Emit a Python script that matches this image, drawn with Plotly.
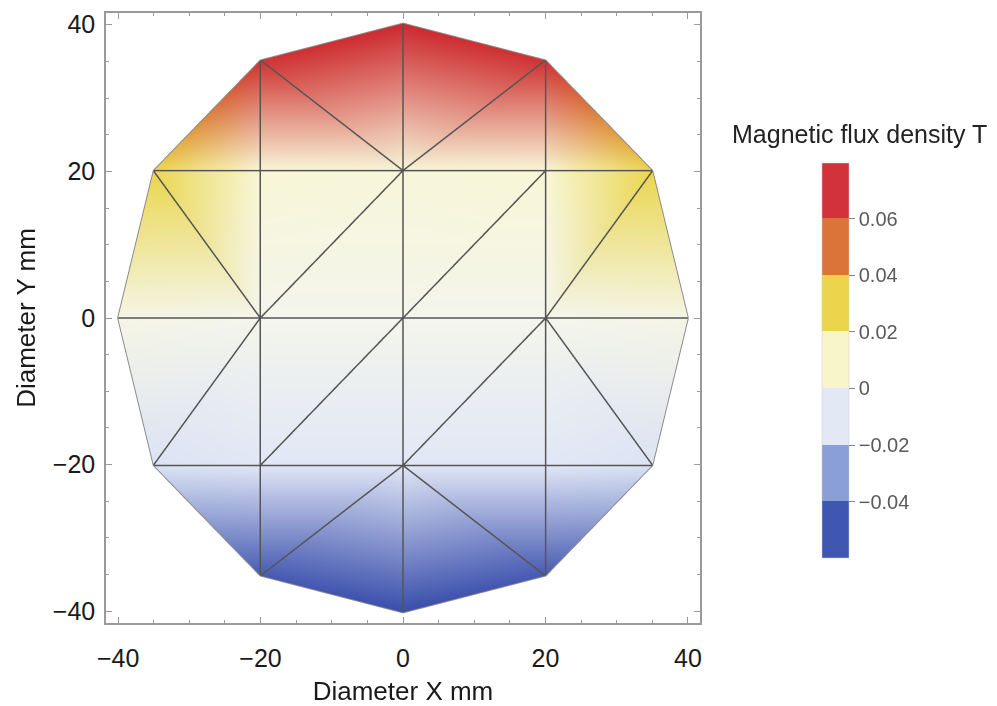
import plotly.graph_objects as go

# ---------------- data ----------------
# mesh nodes (mm)
node_x = [0, 20, 35, 40, 35, 20, 0, -20, -35, -40, -35, -20,
          -20, 0, 20, -20, 0, 20, -20, 0, 20]
node_y = [40, 35, 20, 0, -20, -35, -40, -35, -20, 0, 20, 35,
          20, 20, 20, 0, 0, 0, -20, -20, -20]
# magnetic flux density at each node (T)
flux_T = [0.076, 0.069, 0.030, 0.004, -0.012, -0.049, -0.057, -0.049, -0.012, 0.004, 0.030, 0.069,
          0.012, 0.010, 0.012, 0.000, 0.000, 0.000, -0.011, -0.011, -0.011]
# triangular elements (node indices)
tri_i = [11, 0, 11, 1, 10, 1, 10, 10, 12, 13, 13, 14, 14, 2, 9, 15, 15, 16, 16, 17, 17, 17, 8, 18, 7, 19, 19, 20]
tri_j = [0, 1, 13, 14, 11, 2, 12, 15, 13, 16, 14, 17, 2, 3, 15, 18, 16, 19, 17, 20, 3, 4, 18, 19, 19, 5, 20, 4]
tri_k = [13, 13, 12, 13, 12, 14, 15, 9, 15, 15, 16, 16, 17, 17, 8, 8, 18, 18, 19, 19, 4, 20, 7, 7, 6, 6, 5, 5]

# colour legend
legend_tickvals = [-0.04, -0.02, 0, 0.02, 0.04, 0.06]
legend_ticktext = ["\u22120.04", "\u22120.02", "0", "0.02", "0.04", "0.06"]
legend_min, legend_max = -0.060, 0.0795
band_colors = ["#3f57b1", "#8a9fd5", "#e2e8f4", "#f8f5c9", "#ebd54c", "#db7439", "#d2333a"]

# continuous colour function used for the field
cf_vals = [-0.060, -0.045, -0.030, -0.011, 0.0, 0.012, 0.030, 0.050, 0.068, 0.080]
cf_rgb = [(52, 74, 168), (78, 96, 181), (134, 154, 212), (225, 231, 246), (244, 245, 236),
          (248, 246, 214), (234, 214, 78), (221, 122, 58), (207, 52, 50), (204, 34, 44)]


def color_of(v):
    if v <= cf_vals[0]:
        c = cf_rgb[0]
    elif v >= cf_vals[-1]:
        c = cf_rgb[-1]
    else:
        for a in range(len(cf_vals) - 1):
            if cf_vals[a] <= v <= cf_vals[a + 1]:
                t = (v - cf_vals[a]) / (cf_vals[a + 1] - cf_vals[a])
                c = tuple(cf_rgb[a][m] + t * (cf_rgb[a + 1][m] - cf_rgb[a][m]) for m in range(3))
                break
    return "rgb(%d,%d,%d)" % tuple(round(x) for x in c)


vcolors = [color_of(v) for v in flux_T]

# edges of the mesh
edge_count = {}
for a, b, c in zip(tri_i, tri_j, tri_k):
    for p, q in ((a, b), (b, c), (c, a)):
        key = (min(p, q), max(p, q))
        edge_count[key] = edge_count.get(key, 0) + 1


def edge_xyz(boundary):
    xs, ys, zs = [], [], []
    for (p, q), n in edge_count.items():
        if (n == 1) == boundary:
            xs += [node_x[p], node_x[q], None]
            ys += [node_y[p], node_y[q], None]
            zs += [0.5, 0.5, None]
    return xs, ys, zs


XR = [-41.7, 41.7]
YR = [-41.6, 41.6]

fig = go.Figure()

fig.add_trace(go.Mesh3d(
    x=node_x, y=node_y, z=[0] * len(node_x),
    i=tri_i, j=tri_j, k=tri_k,
    vertexcolor=vcolors,
    flatshading=False,
    lighting=dict(ambient=1.0, diffuse=0.0, specular=0.0, roughness=1.0, fresnel=0.0),
    hoverinfo="skip", showscale=False, scene="scene",
))
ix, iy, iz = edge_xyz(False)
fig.add_trace(go.Scatter3d(x=ix, y=iy, z=iz, mode="lines",
                           line=dict(color="#555555", width=3), hoverinfo="skip",
                           showlegend=False, scene="scene"))
bx, by, bz = edge_xyz(True)
fig.add_trace(go.Scatter3d(x=bx, y=by, z=bz, mode="lines",
                           line=dict(color="#8c8c8c", width=2), hoverinfo="skip",
                           showlegend=False, scene="scene"))

# colour legend (step colour bar)
n = len(band_colors)
bounds = [legend_min] + legend_tickvals + [legend_max]
cs = []
for b in range(n):
    lo = (bounds[b] - legend_min) / (legend_max - legend_min)
    hi = (bounds[b + 1] - legend_min) / (legend_max - legend_min)
    cs.append([lo, band_colors[b]])
    cs.append([hi, band_colors[b]])

fig.add_trace(go.Scatter(
    x=[0], y=[0], mode="markers", hoverinfo="skip", showlegend=False,
    marker=dict(size=1, opacity=0, color=[0], cmin=legend_min, cmax=legend_max,
                colorscale=cs, showscale=True,
                colorbar=dict(x=(822 - 106) / 594, xanchor="left", xpad=0,
                              y=(623 - 360.8) / 610, yanchor="middle", ypad=0,
                              len=395, lenmode="pixels", thickness=27,
                              outlinewidth=0.5, outlinecolor="#cccccc",
                              tickvals=legend_tickvals, ticktext=legend_ticktext,
                              ticks="outside", ticklen=6, tickcolor="#888",
                              tickfont=dict(family="Liberation Sans", size=20, color="#5a5a5a"))),
))

axis_common = dict(
    showgrid=False, zeroline=False, showline=True, linecolor="#9a9a9a", linewidth=1.5,
    mirror="ticks", ticks="inside", ticklen=6, tickwidth=1.2, tickcolor="#9a9a9a",
    tickvals=[-40, -20, 0, 20, 40],
    minor=dict(dtick=5, tick0=0, ticks="inside", ticklen=3, tickcolor="#9a9a9a", tickwidth=1.2),
    tickfont=dict(family="Liberation Sans", size=25, color="#1a1a1a"),
    fixedrange=True, automargin=False,
)
fig.update_layout(
    width=989, height=698,
    margin=dict(l=98, r=297, t=5, b=83),
    paper_bgcolor="white", plot_bgcolor="rgba(0,0,0,0)",
    showlegend=False,
    xaxis=dict(range=XR, title=dict(text="Diameter X mm", font=dict(family="Liberation Sans", size=26, color="#1a1a1a"), standoff=14),
               ticklabelstandoff=12, **axis_common),
    yaxis=dict(range=YR, title=dict(text="Diameter Y mm", font=dict(family="Liberation Sans", size=26, color="#1a1a1a"), standoff=10),
               ticklabelstandoff=4, **axis_common),
    scene=dict(
        domain=dict(x=[0, 1], y=[0, 1]),
        bgcolor="rgba(0,0,0,0)",
        xaxis=dict(visible=False, range=XR),
        yaxis=dict(visible=False, range=YR),
        zaxis=dict(visible=False, range=[-1, 1]),
        aspectmode="manual", aspectratio=dict(x=1.951, y=2.011, z=0.05),
        camera=dict(projection=dict(type="orthographic"),
                    eye=dict(x=0, y=0, z=1), up=dict(x=0, y=1, z=0), center=dict(x=0, y=0, z=0)),
        dragmode=False,
    ),
    annotations=[dict(text="Magnetic flux density T", x=(859 - 106) / 594, y=(623 - 134) / 610,
                      xref="paper", yref="paper", xanchor="center", yanchor="middle", showarrow=False,
                      font=dict(family="Liberation Sans", size=25, color="#222222"))],
)

fig.write_html("out.html")
